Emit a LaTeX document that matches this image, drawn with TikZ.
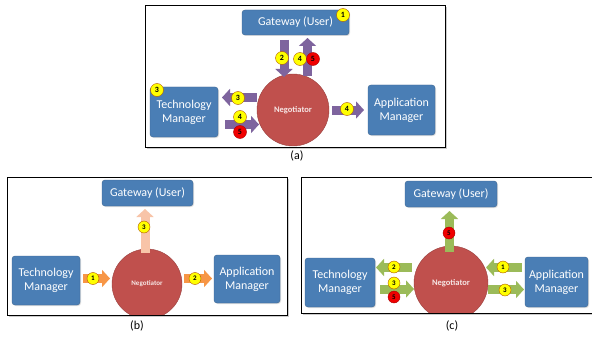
\documentclass[tikz,border=0pt]{standalone}
\usepackage{fontspec}
\setmainfont{Carlito}
\usetikzlibrary{arrows.meta,shadows}
\definecolor{boxblue}{HTML}{4A7EB5}
\definecolor{negred}{HTML}{C0504D}
\definecolor{arrpurple}{HTML}{7E649E}
\definecolor{arrgreen}{HTML}{9BBB59}
\definecolor{arrorange}{HTML}{F79646}
\definecolor{arrpeach}{HTML}{F8C4A8}
\definecolor{badgeyellow}{HTML}{FFFF00}
\definecolor{badgered}{HTML}{F00000}
\begin{document}
\begin{tikzpicture}[x=1pt,y=-1pt,
  frame/.style={draw=black,line width=0.9pt,fill=white,drop shadow={opacity=0.4,shadow xshift=2pt,shadow yshift=-2pt}},
  frameline/.style={draw=black,line width=0.9pt},
  box/.style={draw=boxblue!80!black,fill=boxblue,rounded corners=3pt,text=white,align=center,inner sep=0pt,
    font=\fontsize{12}{14}\selectfont,drop shadow={opacity=0.25,shadow xshift=1pt,shadow yshift=-1pt}},
  neg/.style={circle,draw=negred!80!black,fill=negred,text=white!85!negred,inner sep=0pt,
    font=\fontsize{8.5}{10}\selectfont\bfseries},
  fat/.style={line width=9pt,-{Triangle[length=8pt,width=17pt]}},
  badge/.style={circle,draw=orange!70!black,line width=0.4pt,fill=badgeyellow,minimum size=13pt,inner sep=0pt,
    font=\fontsize{8}{8}\selectfont\bfseries},
  rbadge/.style={badge,fill=badgered,draw=badgered!70!black},
  sbadge/.style={badge,minimum size=12pt,font=\fontsize{7}{7}\selectfont\bfseries},
  srbadge/.style={rbadge,minimum size=12pt,font=\fontsize{7}{7}\selectfont\bfseries},
  lbl/.style={font=\fontsize{12}{14}\selectfont}
]
\useasboundingbox (0,0) rectangle (592,345);

% ---------------- panel (a)
\node[frame,minimum width=300pt,minimum height=142pt,inner sep=0pt] (fa) at (295,76) {};
\begin{scope}
\clip (145,5) rectangle (445,147);
\node[box,minimum width=107pt,minimum height=25pt] (gwa) at (295.5,22.5) {Gateway (User)};
\node[box,minimum width=68pt,minimum height=50pt] (tma) at (184,112) {Technology\\Manager};
\node[box,minimum width=67pt,minimum height=50pt] (ama) at (401.5,110) {Application\\Manager};
\node[neg,minimum size=72pt] (nga) at (293,110) {Negotiator};
\coordinate (a1s) at (284,40);  \coordinate (a1e) at (284,77);
\coordinate (a2s) at (307.5,76); \coordinate (a2e) at (307.5,38);
\coordinate (a3s) at (257,97.5); \coordinate (a3e) at (222,97.5);
\coordinate (a4s) at (225,124.5); \coordinate (a4e) at (259,124.5);
\coordinate (a5s) at (332,110); \coordinate (a5e) at (364,110);
\draw[fat,arrpurple] (a1s) -- (a1e);
\draw[fat,arrpurple] (a2s) -- (a2e);
\draw[fat,arrpurple] (a3s) -- (a3e);
\draw[fat,arrpurple] (a4s) -- (a4e);
\draw[fat,arrpurple] (a5s) -- (a5e);
\node[badge] (ba1) at (343,15) {1};
\node[badge] (ba2) at (282,58) {2};
\node[badge] (ba3) at (300,59) {4};
\node[rbadge] (ba4) at (313,59) {5};
\node[badge] (ba5) at (157,90) {3};
\node[badge] (ba6) at (238,98) {3};
\node[badge] (ba7) at (240,117) {4};
\node[rbadge] (ba8) at (240,132) {5};
\node[badge] (ba9) at (347,109) {4};
\end{scope}
\draw[frameline] (145,5) rectangle (445,147);
\node[lbl] (la) at (297,156) {(a)};

% ---------------- panel (b)
\node[frame,minimum width=280pt,minimum height=138pt,inner sep=0pt] (fb) at (147,246) {};
\begin{scope}
\clip (7,177) rectangle (287,315);
\node[box,minimum width=91pt,minimum height=26pt] (gwb) at (147.5,193) {Gateway (User)};
\node[box,minimum width=68pt,minimum height=49pt] (tmb) at (46,280.5) {Technology\\Manager};
\node[box,minimum width=66pt,minimum height=48pt] (amb) at (247,279) {Application\\Manager};
\node[neg,minimum size=70pt,font=\fontsize{7}{8}\selectfont\bfseries] (ngb) at (147,284) {Negotiator};
\coordinate (b1s) at (145,253); \coordinate (b1e) at (145,209);
\coordinate (b2s) at (83,278.5); \coordinate (b2e) at (110,278.5);
\coordinate (b3s) at (184,278.5); \coordinate (b3e) at (212,278.5);
\draw[fat,arrpeach] (b1s) -- (b1e);
\draw[fat,arrorange] (b2s) -- (b2e);
\draw[fat,arrorange] (b3s) -- (b3e);
\node[sbadge] (bb1) at (144,227) {3};
\node[sbadge] (bb2) at (93,278.5) {1};
\node[sbadge] (bb3) at (195,278.5) {2};
\end{scope}
\draw[frameline] (7,177) rectangle (287,315);
\node[lbl] (lb) at (137,326) {(b)};

% ---------------- panel (c)
\node[frame,minimum width=294pt,minimum height=136pt,inner sep=0pt] (fc) at (448,245) {};
\begin{scope}
\clip (301,177) rectangle (595,313);
\node[box,minimum width=92pt,minimum height=26pt] (gwc) at (451,194) {Gateway (User)};
\node[box,minimum width=70pt,minimum height=49pt] (tmc) at (340,282.5) {Technology\\Manager};
\node[box,minimum width=63pt,minimum height=50pt] (amc) at (556.5,282) {Application\\Manager};
\node[neg,minimum size=74pt] (ngc) at (451,283) {Negotiator};
\coordinate (c1s) at (449.5,252); \coordinate (c1e) at (449.5,211);
\coordinate (c2s) at (412,267.5); \coordinate (c2e) at (376,267.5);
\coordinate (c3s) at (380,289); \coordinate (c3e) at (414,289);
\coordinate (c4s) at (522,267.5); \coordinate (c4e) at (486,267.5);
\coordinate (c5s) at (488,289.5); \coordinate (c5e) at (524,289.5);
\draw[fat,arrgreen] (c1s) -- (c1e);
\draw[fat,arrgreen] (c2s) -- (c2e);
\draw[fat,arrgreen] (c3s) -- (c3e);
\draw[fat,arrgreen] (c4s) -- (c4e);
\draw[fat,arrgreen] (c5s) -- (c5e);
\node[srbadge] (bc1) at (449,233) {5};
\node[sbadge] (bc2) at (394,267) {2};
\node[sbadge] (bc3) at (394,283) {3};
\node[srbadge] (bc4) at (394,297) {5};
\node[sbadge] (bc5) at (503,267) {1};
\node[sbadge] (bc6) at (505,290) {3};
\end{scope}
\draw[frameline] (301,177) rectangle (595,313);
\node[lbl] (lc) at (452,326) {(c)};
\end{tikzpicture}
\end{document}
